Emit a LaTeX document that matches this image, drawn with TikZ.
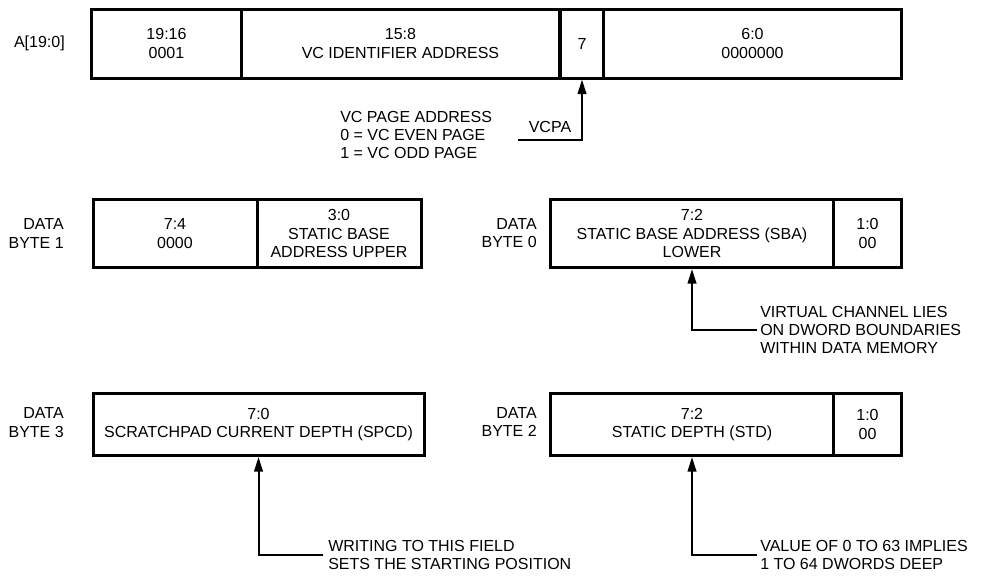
\documentclass[tikz,border=0pt]{standalone}
\usepackage{fontspec}
\setmainfont{Liberation Sans}
\usetikzlibrary{arrows.meta}
\tikzset{
  cell/.style 2 args={draw, line width=2.25pt, align=center, inner sep=0pt, minimum width=#1*0.75pt, minimum height=#2*0.75pt},
  lbl/.style={align=right, anchor=east, inner sep=0pt},
  note/.style={align=left, anchor=west, inner sep=0pt},
  ptr/.style={line width=1.5pt, -{Triangle[length=11pt,width=6.5pt]}}
}
\begin{document}
\begin{tikzpicture}[x=0.75pt,y=-0.75pt,font=\fontsize{12}{13.8}\selectfont]
\useasboundingbox (0,0) rectangle (982,575);
\foreach \n/\cx/\cy/\w/\h/\txt in {
  adev/166.5/43.5/150/69/{19:16\\0001}, avcid/400.5/43.5/318/69/{15:8\\VC IDENTIFIER ADDRESS},
  avcpa/582/43.5/43/69/7, alow/752.5/43.5/298/69/{6:0\\0000000},
  bonehi/175/233.5/164/68/{7:4\\0000}, bonelo/339/233.5/164/68/{3:0\\STATIC BASE\\ADDRESS UPPER},
  bzerohi/692/233.5/283/68/{7:2\\STATIC BASE ADDRESS (SBA)\\LOWER}, bzerolo/867.5/233.5/68/68/{1:0\\00},
  bthree/258.5/424.5/331/62/{7:0\\SCRATCHPAD CURRENT DEPTH (SPCD)},
  btwohi/692/424.5/283/62/{7:2\\STATIC DEPTH (STD)}, btwolo/867.5/424.5/68/62/{1:0\\00}} {
  \node[cell={\w}{\h}] (\n) at (\cx,\cy) {\txt};
}
\foreach \n/\lx/\ly/\txt in {alab/65/43/{A[19:0]}, bonelab/64/233.5/{DATA\\BYTE 1}, bzerolab/537/233/{DATA\\BYTE 0},
  bthreelab/64/422.5/{DATA\\BYTE 3}, btwolab/537/422/{DATA\\BYTE 2}} {
  \node[lbl] (\n) at (\lx,\ly) {\txt};
}
\node[note] (vcpanote) at (340,135) {VC PAGE ADDRESS\\0 = VC EVEN PAGE\\1 = VC ODD PAGE};
\node[note] (sbanote) at (760,330) {VIRTUAL CHANNEL LIES\\ON DWORD BOUNDARIES\\WITHIN DATA MEMORY};
\node[note] (spcdnote) at (328,555) {WRITING TO THIS FIELD\\SETS THE STARTING POSITION};
\node[note] (stdnote) at (760,555) {VALUE OF 0 TO 63 IMPLIES\\1 TO 64 DWORDS DEEP};
\coordinate (vcpaend) at (518,140);
\coordinate (sbaend) at (757,330);
\coordinate (spcdend) at (323,555);
\coordinate (stdend) at (757,555);
\draw[ptr] (vcpaend) -| node[pos=0.25, above=1.5pt] (vcpatag) {VCPA} (avcpa.south);
\draw[ptr] (sbaend) -| (bzerohi.south);
\draw[ptr] (spcdend) -| (bthree.south);
\draw[ptr] (stdend) -| (btwohi.south);
\end{tikzpicture}
\end{document}
